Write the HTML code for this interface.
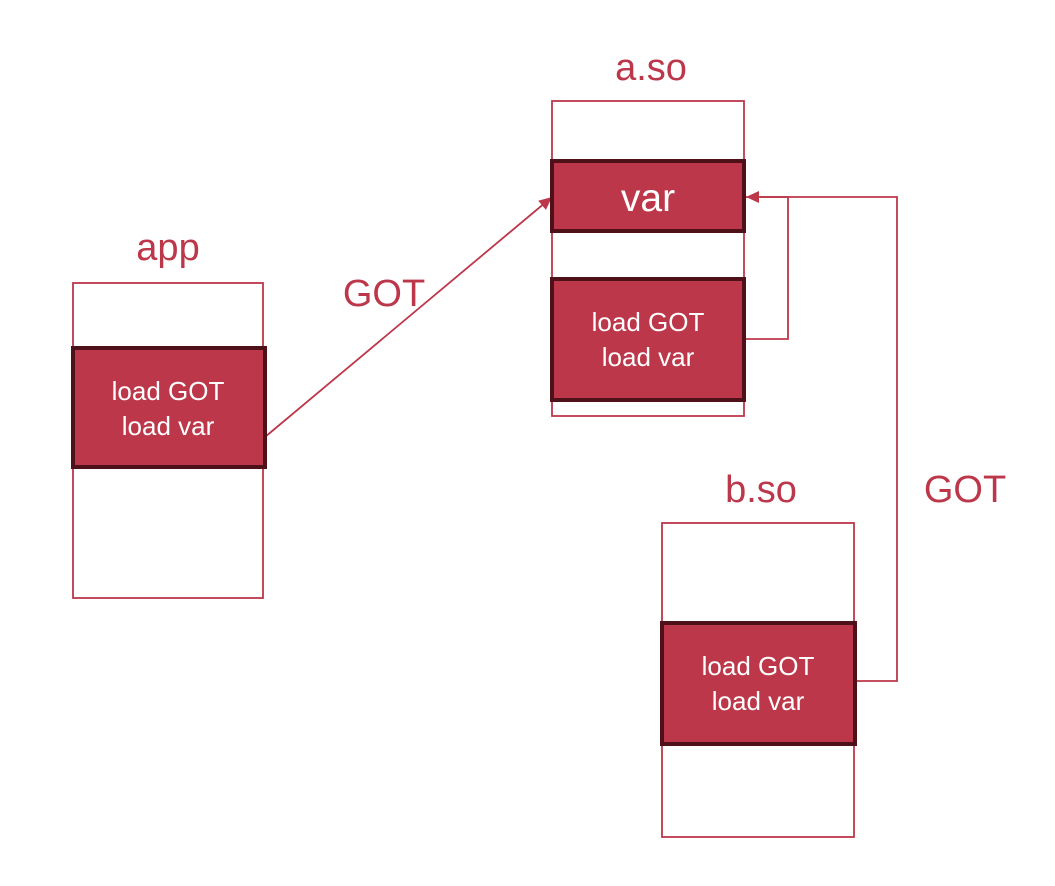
<!DOCTYPE html>
<html><head><style>body{margin:0;background:#fff}svg text{font-family:"Liberation Sans",Arial,sans-serif}</style></head><body>
<svg width="1055" height="881" xmlns="http://www.w3.org/2000/svg">
<defs><marker id="a" markerWidth="14" markerHeight="14" refX="13" refY="6" orient="auto" markerUnits="userSpaceOnUse"><path d="M0,0 L13,6 L0,12 z" fill="#bc374a"/></marker></defs>
<g fill="none" stroke="#bc374a" stroke-width="1.8">
<rect x="73" y="283" width="190" height="315"/>
<rect x="552" y="101" width="192" height="315"/>
<rect x="662" y="523" width="192" height="314"/>
<path d="M265,437 L552,197" marker-end="url(#a)"/>
<path d="M746,339 L788,339 L788,197 L746,197" marker-end="url(#a)"/>
<path d="M856,681 L897,681 L897,197 L760,197"/>
</g>
<g fill="#bc374a" stroke="#4f1119" stroke-width="4">
<rect x="73" y="348" width="192" height="119"/>
<rect x="552" y="161" width="192" height="70"/>
<rect x="552" y="279" width="192" height="121"/>
<rect x="662" y="623" width="193" height="121"/>
</g>
<g fill="#bc374a" font-size="38" text-anchor="middle">
<text x="168" y="260">app</text>
<text x="651" y="80">a.so</text>
<text x="761" y="502">b.so</text>
<text x="384" y="306">GOT</text>
<text x="965" y="502">GOT</text>
</g>
<g fill="#fff" font-size="26" text-anchor="middle">
<text x="168" y="400">load GOT</text><text x="168" y="435">load var</text>
<text x="648" y="331">load GOT</text><text x="648" y="366">load var</text>
<text x="758" y="675">load GOT</text><text x="758" y="710">load var</text>
<text x="648" y="211" font-size="39">var</text>
</g>
</svg>
</body></html>
